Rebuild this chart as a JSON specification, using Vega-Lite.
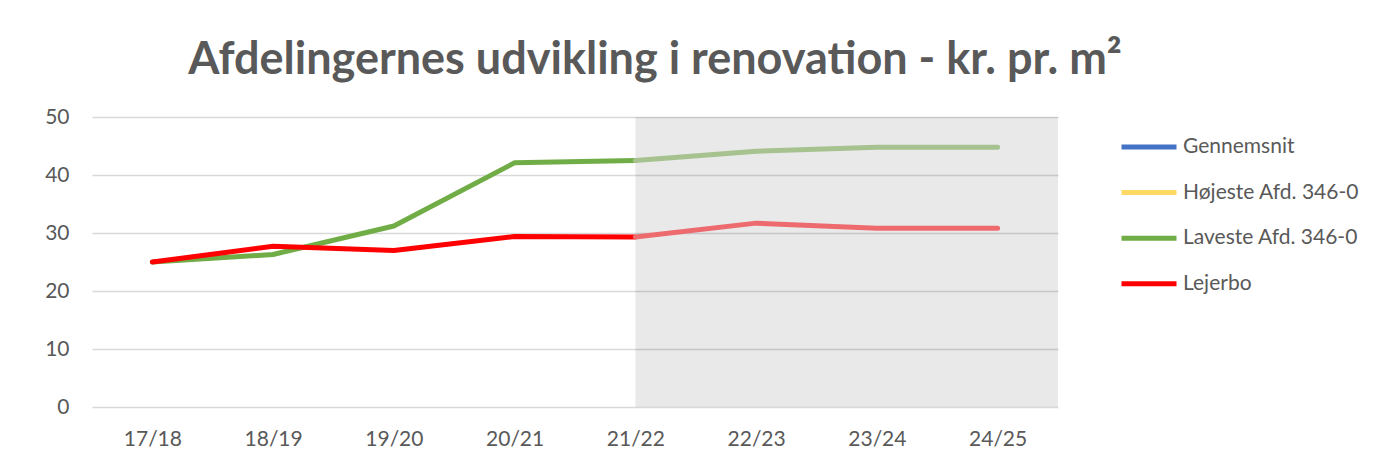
{
  "$schema": "https://vega.github.io/schema/vega-lite/v6.json",
  "autosize": {"type": "none"},
  "padding": {"left": 92, "top": 117, "right": 317, "bottom": 63},
  "width": 966,
  "height": 290,
  "background": "white",
  "config": {
    "font": "Lato",
    "view": {"stroke": null},
    "axis": {"labelColor": "#595959", "labelFont": "Lato", "labelFontSize": 21, "title": null, "domain": false, "ticks": false},
    "axisX": {"labelAngle": 0, "labelAlign": "center", "labelPadding": 21, "grid": false},
    "axisY": {"labelPadding": 23, "grid": true, "gridColor": "#D9D9D9", "gridWidth": 1.3}
  },
  "title": {
    "text": "Afdelingernes udvikling i renovation - kr. pr. m²",
    "font": "Lato",
    "fontSize": 45,
    "fontWeight": "bold",
    "color": "#595959",
    "anchor": "middle",
    "frame": "group",
    "dx": 80,
    "offset": 23
  },
  "datasets": {
    "shade": [{"from": "21/22"}],
    "actual": [
      {"serie": "Laveste Afd. 346-0", "aar": "17/18", "kr": 25.0},
      {"serie": "Laveste Afd. 346-0", "aar": "18/19", "kr": 26.3},
      {"serie": "Laveste Afd. 346-0", "aar": "19/20", "kr": 31.2},
      {"serie": "Laveste Afd. 346-0", "aar": "20/21", "kr": 42.1},
      {"serie": "Laveste Afd. 346-0", "aar": "21/22", "kr": 42.5},
      {"serie": "Lejerbo", "aar": "17/18", "kr": 25.0},
      {"serie": "Lejerbo", "aar": "18/19", "kr": 27.7},
      {"serie": "Lejerbo", "aar": "19/20", "kr": 27.0},
      {"serie": "Lejerbo", "aar": "20/21", "kr": 29.4},
      {"serie": "Lejerbo", "aar": "21/22", "kr": 29.3}
    ],
    "forecast": [
      {"serie": "Laveste Afd. 346-0", "aar": "21/22", "kr": 42.5},
      {"serie": "Laveste Afd. 346-0", "aar": "22/23", "kr": 44.1},
      {"serie": "Laveste Afd. 346-0", "aar": "23/24", "kr": 44.8},
      {"serie": "Laveste Afd. 346-0", "aar": "24/25", "kr": 44.8},
      {"serie": "Lejerbo", "aar": "21/22", "kr": 29.3},
      {"serie": "Lejerbo", "aar": "22/23", "kr": 31.7},
      {"serie": "Lejerbo", "aar": "23/24", "kr": 30.8},
      {"serie": "Lejerbo", "aar": "24/25", "kr": 30.8}
    ]
  },
  "layer": [
    {
      "data": {"name": "shade"},
      "mark": {"type": "rect", "fill": "#000000", "fillOpacity": 0.085},
      "encoding": {
        "x": {"field": "from", "type": "ordinal"},
        "x2": {"value": "width"},
        "y": {"datum": 50},
        "y2": {"datum": 0}
      }
    },
    {
      "data": {"name": "actual"},
      "mark": {"type": "line", "strokeWidth": 5, "strokeCap": "round", "strokeJoin": "round"},
      "encoding": {
        "x": {
          "field": "aar", "type": "ordinal",
          "scale": {"type": "point", "padding": 0.5, "domain": ["17/18", "18/19", "19/20", "20/21", "21/22", "22/23", "23/24", "24/25"]}
        },
        "y": {
          "field": "kr", "type": "quantitative",
          "scale": {"domain": [0, 50], "nice": false},
          "axis": {"values": [0, 10, 20, 30, 40, 50]}
        },
        "color": {
          "field": "serie", "type": "nominal",
          "scale": {
            "domain": ["Gennemsnit", "Højeste Afd. 346-0", "Laveste Afd. 346-0", "Lejerbo"],
            "range": ["#4472C4", "#FFD966", "#70AD47", "#FF0000"]
          },
          "legend": {
            "title": null,
            "orient": "none",
            "legendX": 1027,
            "legendY": 0,
            "symbolType": "stroke",
            "symbolSize": 3025,
            "symbolStrokeWidth": 5,
            "labelFontSize": 21,
            "labelColor": "#595959",
            "labelFont": "Lato",
            "labelOffset": 4,
            "labelLimit": 400,
            "rowPadding": 5.6
          }
        }
      }
    },
    {
      "data": {"name": "forecast"},
      "mark": {"type": "line", "strokeWidth": 5, "strokeCap": "round", "strokeJoin": "round"},
      "encoding": {
        "x": {"field": "aar", "type": "ordinal"},
        "y": {"field": "kr", "type": "quantitative"},
        "stroke": {
          "field": "serie", "type": "nominal",
          "scale": {"domain": ["Laveste Afd. 346-0", "Lejerbo"], "range": ["#A6C28F", "#ED6B6E"]},
          "legend": null
        }
      }
    }
  ],
  "resolve": {"scale": {"stroke": "independent"}}
}
